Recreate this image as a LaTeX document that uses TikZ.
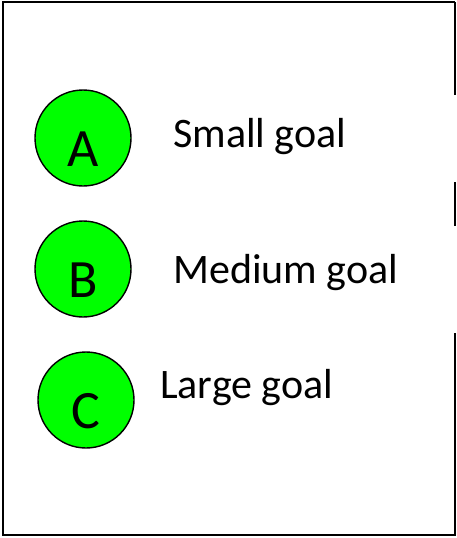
\documentclass[tikz,border=0pt]{standalone}
\usepackage{fontspec}
\setmainfont{Carlito}
\usepackage{tikz}
\usetikzlibrary{positioning,shapes,calc}

\begin{document}
\begin{tikzpicture}[x = 1pt, y = -1pt,
    ball/.style = {circle, draw = black, line width = 1.4pt, fill = green, minimum size = 96pt, inner sep = 0pt,
      text height = 56pt, text depth = 0pt, font = \fontsize{54}{60}\selectfont},
    lab/.style = {anchor = base west, inner sep = 0pt, font = \fontsize{42}{48}\selectfont}]
    \useasboundingbox (0,0) rectangle (457,538);
    \coordinate (tl) at (3,2);
    \coordinate (tr) at (455,2);
    \coordinate (bl) at (3,535);
    \coordinate (br) at (455,535);
    \draw[line width = 2.5pt] (tr) -- (tl) -- (bl) -- (br) -- (455,333);
    \draw[line width = 2.5pt] (tr) -- (455,95);
    \draw[line width = 2.5pt] (455,182) -- (455,226);
    \node[ball] (a) at (83,138) {A};
    \node[ball] (b) at (83,269) {B};
    \node[ball] (c) at (86,400) {C};
        % Labels
    \node[lab] (sa) at (173,147) {Small goal};
    \node[lab] (sb) at (173,283) {Medium goal};
    \node[lab] (sc) at (160,398) {Large goal};
  \end{tikzpicture}
\end{document}
